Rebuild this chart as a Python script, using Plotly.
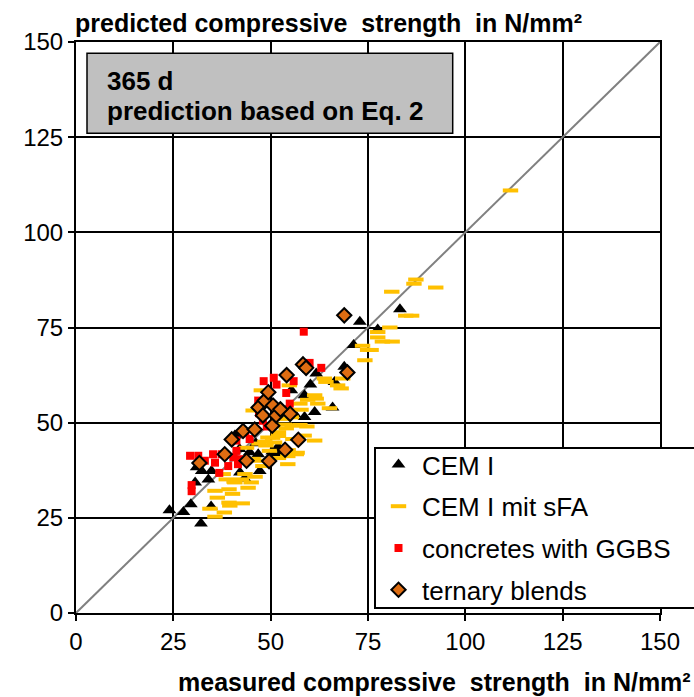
import plotly.graph_objects as go

# Measured vs. predicted compressive strength (N/mm²) at 365 d
cem1_measured = [24.0, 27.6, 29.5, 32.1, 34.7, 30.6, 34.0, 34.8, 32.3, 31.0, 42.1, 43.3,
                 47.2, 42.0, 46.8, 44.6, 46.2, 50.4, 51.9, 54.0, 58.7, 61.3, 65.9, 60.2,
                 58.7, 55.3, 61.7, 66.4, 68.9, 71.3, 72.9, 77.5, 83.2, 56.1, 40.8, 51.5]
cem1_predicted = [27.0, 26.5, 28.6, 23.5, 28.0, 34.3, 35.1, 37.3, 37.3, 38.3, 36.9, 35.3,
                  37.3, 43.1, 41.7, 42.2, 44.6, 42.4, 43.7, 53.2, 51.5, 52.8, 54.0, 60.0,
                  57.2, 58.5, 62.9, 60.7, 64.7, 70.4, 76.5, 74.5, 79.8, 52.3, 46.6, 42.0]

sfa_measured = [34.4, 35.7, 38.1, 39.3, 39.5, 42.7, 35.7, 36.3, 39.3, 40.2, 40.6, 37.8,
                38.6, 40.8, 42.5, 43.4, 44.2, 45.0, 46.0, 48.0, 47.5, 49.7, 49.3, 43.8,
                45.5, 47.0, 48.5, 52.0, 52.0, 52.0, 54.4, 56.6, 58.6, 61.3, 53.5, 55.5,
                57.5, 59.3, 54.0, 55.3, 57.8, 59.5, 61.3, 61.7, 62.1, 65.1, 63.8, 64.2,
                67.2, 68.1, 68.5, 47.6, 45.5, 52.8, 53.5, 54.8, 57.5, 50.5, 51.0, 48.8,
                54.5, 56.8, 54.4, 55.7, 73.6, 74.9, 74.2, 75.8, 77.5, 77.5, 78.7, 81.2,
                80.6, 84.7, 86.2, 81.1, 86.8, 87.3, 92.4, 111.6]
sfa_predicted = [27.4, 25.3, 26.4, 29.0, 28.2, 28.8, 32.1, 30.3, 32.5, 31.3, 34.5, 36.5,
                 35.1, 34.3, 35.1, 36.5, 32.9, 34.3, 35.8, 38.6, 40.0, 42.6, 46.1, 43.4,
                 40.5, 44.5, 45.0, 40.7, 46.5, 47.5, 39.1, 41.7, 46.6, 45.3, 49.5, 49.2,
                 49.4, 49.0, 48.5, 51.4, 53.4, 56.0, 57.2, 56.3, 55.0, 53.8, 61.6, 60.7,
                 59.8, 59.0, 61.6, 58.5, 53.2, 53.8, 51.0, 59.8, 55.0, 46.0, 44.8, 44.0,
                 42.8, 42.1, 41.2, 45.7, 70.2, 69.1, 66.4, 69.1, 73.8, 72.4, 71.3, 71.3,
                 75.0, 78.1, 78.1, 84.4, 86.5, 87.6, 85.5, 111.0]

ggbs_measured = [29.3, 31.4, 35.2, 37.4, 35.7, 33.1, 29.7, 29.7, 36.8, 39.1, 40.4, 41.2,
                 41.6, 42.1, 41.2, 44.6, 47.2, 47.0, 48.0, 49.0, 46.8, 48.2, 50.8, 51.5,
                 54.0, 54.9, 55.9, 58.5, 60.0, 63.0, 43.5]
ggbs_predicted = [41.3, 41.3, 41.7, 41.7, 39.5, 40.0, 33.6, 32.0, 36.8, 38.6, 40.9, 42.6,
                  39.1, 40.4, 45.3, 45.7, 55.3, 52.5, 50.5, 49.0, 55.8, 60.9, 61.8, 60.0,
                  57.8, 55.0, 60.9, 73.9, 65.7, 64.4, 47.5]

ternary_measured = [31.7, 38.2, 40.0, 42.9, 45.9, 43.8, 49.6, 53.7, 57.1, 50.4, 46.9, 48.0,
                    48.5, 49.4, 50.6, 51.4, 55.0, 54.1, 58.3, 59.1, 69.7, 68.9, 52.5]
ternary_predicted = [39.4, 41.7, 45.6, 47.8, 48.2, 40.0, 39.9, 42.9, 45.5, 49.2, 54.0, 51.9,
                     55.8, 58.0, 54.5, 51.9, 52.3, 62.5, 65.3, 64.4, 63.2, 78.2, 53.5]

axis_range = [0, 150]
tick_values = [0, 25, 50, 75, 100, 125, 150]

FONT = "Liberation Sans, Arial, sans-serif"

fig = go.Figure()

# line of equality
fig.add_trace(go.Scatter(x=axis_range, y=axis_range, mode="lines",
                         line=dict(color="#808080", width=2),
                         showlegend=False, hoverinfo="skip"))

fig.add_trace(go.Scatter(x=cem1_measured, y=cem1_predicted, mode="markers", name="CEM I",
                         legendgroup="a",
                         marker=dict(symbol="triangle-up", size=12, color="black",
                                     line=dict(width=0))))
fig.add_trace(go.Scatter(x=sfa_measured, y=sfa_predicted, mode="markers", name="CEM I mit sFA",
                         legendgroup="b",
                         marker=dict(symbol="line-ew", size=11, color="#FFC000",
                                     line=dict(width=4, color="#FFC000"))))
fig.add_trace(go.Scatter(x=ggbs_measured, y=ggbs_predicted, mode="markers",
                         name="concretes with GGBS", legendgroup="c",
                         marker=dict(symbol="square", size=8, color="#FF0000",
                                     line=dict(width=0))))
fig.add_trace(go.Scatter(x=ternary_measured, y=ternary_predicted, mode="markers",
                         name="ternary blends", legendgroup="d",
                         marker=dict(symbol="diamond", size=11, color="#DE6D12",
                                     line=dict(width=2, color="black"))))

axis_common = dict(range=axis_range, tickvals=tick_values, showgrid=True,
                   gridcolor="black", gridwidth=2, showline=True, linecolor="black",
                   linewidth=2, mirror=True, ticks="outside", ticklen=6, tickwidth=2,
                   tickcolor="black", zeroline=False,
                   tickfont=dict(family=FONT, size=24, color="black"))

L, R, T, B = 76, 34, 42, 84
W, H = 694, 697
pw, ph = W - L - R, H - T - B


def px_x(p):
    return (p - L) / pw


def px_y(p):
    return (H - B - p) / ph


fig.update_layout(
    width=W, height=H,
    margin=dict(l=L, r=R, t=T, b=B, autoexpand=False),
    plot_bgcolor="white", paper_bgcolor="white",
    xaxis=axis_common, yaxis=axis_common,
    showlegend=True,
    legend=dict(x=px_x(375), y=px_y(441), xanchor="left", yanchor="top",
                bgcolor="rgba(0,0,0,0)", borderwidth=0, itemwidth=37,
                tracegroupgap=5,
                font=dict(family=FONT, size=26, color="black")),
    shapes=[
        dict(type="rect", xref="paper", yref="paper", layer="above",
             x0=px_x(87), x1=px_x(452.7), y0=px_y(133.3), y1=px_y(53.3),
             fillcolor="#C0C0C0", line=dict(color="black", width=1.5)),
        dict(type="rect", xref="paper", yref="paper", layer="above",
             x0=px_x(375), x1=px_x(720), y0=px_y(608), y1=px_y(448),
             fillcolor="white", line=dict(color="black", width=2)),
    ],
    annotations=[
        dict(text="predicted compressive\u00a0 strength\u00a0 in N/mm²", xref="paper", yref="paper",
             x=px_x(73), y=px_y(23), xanchor="left", yanchor="middle", showarrow=False,
             font=dict(family=FONT, size=25, color="black", weight="bold")),
        dict(text="measured compressive\u00a0 strength\u00a0 in N/mm²", xref="paper", yref="paper",
             x=px_x(693), y=px_y(682), xanchor="right", yanchor="middle", showarrow=False,
             font=dict(family=FONT, size=25, color="black", weight="bold")),
        dict(text="365 d", xref="paper", yref="paper",
             x=px_x(105), y=px_y(81), xanchor="left", yanchor="middle", showarrow=False,
             font=dict(family=FONT, size=26, color="black", weight="bold")),
        dict(text="prediction based on Eq. 2", xref="paper", yref="paper",
             x=px_x(105), y=px_y(111), xanchor="left", yanchor="middle", showarrow=False,
             font=dict(family=FONT, size=26, color="black", weight="bold")),
    ],
)

fig.write_html("out.html")
